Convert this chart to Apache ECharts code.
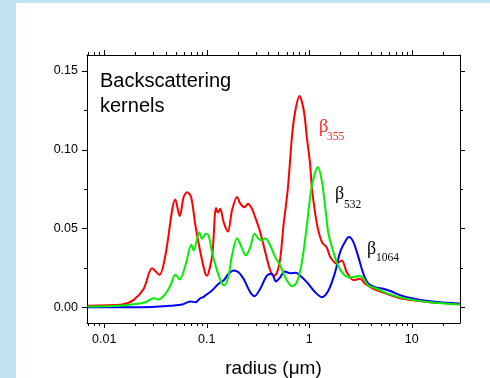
<!DOCTYPE html>
<html><head><meta charset="utf-8">
<script src="https://cdn.jsdelivr.net/npm/echarts@6/dist/echarts.min.js"></script>
<style>
html,body{margin:0;padding:0;width:490px;height:378px;overflow:hidden;background:#c3e2f2;}
#panel{position:absolute;left:16px;top:3px;right:0;bottom:0;background:#fff;}
#chart{position:absolute;left:0;top:0;width:490px;height:378px;}
</style></head><body>
<div id="panel"></div><div id="chart"></div>
<script>
// radius (µm) and kernel values
const r355 = [0.0069,0.0150,0.0194,0.0243,0.0293,0.0346,0.0395,0.0495,0.0545,0.0596,0.0643,0.0704,0.0775,0.0866,0.0969,0.1007,0.1084,0.1141,0.1232,0.1288,0.1356,0.1461,0.1612,0.1763,0.1972,0.2124,0.2339,0.2524,0.2761,0.2973,0.3324,0.3720,0.4162,0.4480,0.4836,0.5207,0.5609,0.6190,0.6862,0.7406,0.8027,0.8858,0.9475,1.020,1.060,1.186,1.327,1.484,1.598,1.857,2.077,2.323,2.694,3.131,3.503,4.219,5.696,8.266,15.04,29.47];
const b355 = [0.0010,0.0017,0.0047,0.0117,0.0248,0.0206,0.0328,0.0684,0.0578,0.0699,0.0730,0.0700,0.0520,0.0350,0.0212,0.0200,0.0265,0.0350,0.0629,0.0600,0.0625,0.0540,0.0480,0.0614,0.0700,0.0657,0.0635,0.0657,0.0625,0.0570,0.0476,0.0350,0.0233,0.0197,0.0218,0.0307,0.0520,0.0758,0.1120,0.1267,0.1340,0.1245,0.1076,0.0906,0.0758,0.0530,0.0413,0.0378,0.0320,0.0276,0.0297,0.0222,0.0172,0.0180,0.0149,0.0117,0.0085,0.0053,0.0032,0.0022];

const r532 = [0.0069,0.0139,0.0202,0.0252,0.0304,0.0340,0.0395,0.0442,0.0495,0.0545,0.0619,0.0708,0.0746,0.0847,0.0900,0.0984,0.1043,0.1126,0.1260,0.1409,0.1484,0.1633,0.1763,0.1972,0.2124,0.2414,0.2658,0.2926,0.3200,0.3455,0.3720,0.4162,0.4656,0.5207,0.6051,0.6862,0.7574,0.8472,0.9475,1.060,1.213,1.327,1.428,1.538,1.720,1.924,2.237,2.599,2.862,3.131,3.372,3.772,4.552,5.904,8.919,15.04,29.47];
const b532 = [0.0004,0.0010,0.0020,0.0032,0.0057,0.0049,0.0085,0.0138,0.0206,0.0176,0.0265,0.0396,0.0360,0.0476,0.0434,0.0466,0.0455,0.0350,0.0233,0.0149,0.0138,0.0200,0.0328,0.0438,0.0400,0.0328,0.0381,0.0466,0.0434,0.0424,0.0438,0.0392,0.0318,0.0265,0.0170,0.0133,0.0159,0.0286,0.0520,0.0773,0.0889,0.0800,0.0640,0.0466,0.0350,0.0260,0.0200,0.0190,0.0195,0.0200,0.0180,0.0138,0.0117,0.0085,0.0053,0.0032,0.0017];

const r1064 = [0.0069,0.0293,0.0459,0.0575,0.0692,0.0775,0.0866,0.0933,0.0969,0.1126,0.1306,0.1461,0.1633,0.1827,0.2044,0.2287,0.2658,0.2926,0.3324,0.3864,0.4323,0.4729,0.5207,0.5734,0.6516,0.7406,0.8155,0.9475,1.141,1.327,1.538,1.787,2.000,2.323,2.446,2.694,3.014,3.372,3.772,4.383,5.279,6.373,7.129,8.919,15.04,29.47];
const b1064 = [0.0000,0.0002,0.0010,0.0017,0.0036,0.0032,0.0057,0.0065,0.0075,0.0106,0.0149,0.0170,0.0212,0.0233,0.0222,0.0180,0.0095,0.0070,0.0117,0.0200,0.0212,0.0163,0.0190,0.0227,0.0216,0.0218,0.0200,0.0159,0.0095,0.0064,0.0106,0.0222,0.0350,0.0434,0.0445,0.0413,0.0318,0.0212,0.0149,0.0127,0.0117,0.0100,0.0085,0.0064,0.0038,0.0022];

// tick values
const xMajorTicks = [0.01, 0.1, 1, 10];
const xMinorTicks = [0.007,0.008,0.009,0.02,0.03,0.04,0.05,0.06,0.07,0.08,0.09,0.2,0.3,0.4,0.5,0.6,0.7,0.8,0.9,2,3,4,5,6,7,8,9,20];
const yMajorTicks = [0, 0.05, 0.10, 0.15];
const yMinorTicks = [0.025, 0.075, 0.125];

const X_MIN = 0.0068, X_MAX = 29.5, Y_MIN = -0.01, Y_MAX = 0.16;

const zip = (xs, ys) => xs.map((x, i) => [x, ys[i]]);

function tickSeries(values, isX, len) {
  return {
    type: 'custom', silent: true, clip: false, animation: false, z: 5,
    xAxisIndex: 0, yAxisIndex: 0,
    data: values.map(v => isX ? [v, 0] : [1, v]),
    renderItem: function (params, api) {
      const cs = params.coordSys;
      const st = { stroke: '#000', lineWidth: 1 };
      if (isX) {
        const x = Math.round(api.coord([api.value(0), 0])[0]) + 0.5;
        const b = cs.y + cs.height, t = cs.y;
        return { type: 'group', children: [
          { type: 'line', shape: { x1: x, y1: b, x2: x, y2: b + len }, style: st },
          { type: 'line', shape: { x1: x, y1: t, x2: x, y2: t - len }, style: st }
        ]};
      } else {
        const y = Math.round(api.coord([1, api.value(1)])[1]) + 0.5;
        const l = cs.x, r = cs.x + cs.width;
        return { type: 'group', children: [
          { type: 'line', shape: { x1: l - len, y1: y, x2: l, y2: y }, style: st },
          { type: 'line', shape: { x1: r, y1: y, x2: r + len, y2: y }, style: st }
        ]};
      }
    }
  };
}

function xLabel(v) {
  const k = Math.log10(v), rk = Math.round(k);
  if (Math.abs(k - rk) > 1e-6) return '';
  return rk < 0 ? Math.pow(10, rk).toFixed(-rk) : String(Math.pow(10, rk));
}

const FONT = 'Liberation Sans, Arial, sans-serif';
const SERIF = 'Liberation Serif, Times New Roman, serif';

const chart = echarts.init(document.getElementById('chart'), null, { renderer: 'canvas' });
const axisLineStyle = { show: true, onZero: false, lineStyle: { color: '#000', width: 1 } };

chart.setOption({
  animation: false,
  backgroundColor: 'transparent',
  grid: { left: 87, right: 30, top: 55, bottom: 55, containLabel: false, outerBoundsMode: 'none' },
  xAxis: [
    { type: 'log', logBase: 10, min: X_MIN, max: X_MAX, position: 'bottom',
      axisLine: axisLineStyle, axisTick: { show: false }, splitLine: { show: false },
      axisLabel: { formatter: xLabel, color: '#000', fontSize: 12.5, fontFamily: FONT, margin: 10, showMinLabel: true, showMaxLabel: true, hideOverlap: false },
      name: 'radius (\u03bcm)', nameLocation: 'middle', nameGap: 36,
      nameTextStyle: { color: '#000', fontSize: 19, fontFamily: FONT } },
    { type: 'log', logBase: 10, min: X_MIN, max: X_MAX, position: 'top',
      axisLine: axisLineStyle, axisTick: { show: false }, splitLine: { show: false },
      axisLabel: { show: false } }
  ],
  yAxis: [
    { type: 'value', min: Y_MIN, max: Y_MAX, position: 'left',
      axisLine: axisLineStyle, axisTick: { show: false }, splitLine: { show: false },
      axisLabel: { customValues: yMajorTicks, formatter: v => v.toFixed(2), color: '#000', fontSize: 12.5, fontFamily: FONT, margin: 9 } },
    { type: 'value', min: Y_MIN, max: Y_MAX, position: 'right',
      axisLine: axisLineStyle, axisTick: { show: false }, splitLine: { show: false },
      axisLabel: { show: false } }
  ],
  series: [
    { name: 'b355', type: 'line', data: zip(r355, b355), showSymbol: false, smooth: 0.3,
      lineStyle: { color: '#ff0000', width: 2 }, itemStyle: { color: '#ff0000' }, z: 2 },
    { name: 'b1064', type: 'line', data: zip(r1064, b1064), showSymbol: false, smooth: 0.3,
      lineStyle: { color: '#0000ff', width: 2 }, itemStyle: { color: '#0000ff' }, z: 2 },
    { name: 'b532', type: 'line', data: zip(r532, b532), showSymbol: false, smooth: 0.3,
      lineStyle: { color: '#00f000', width: 2 }, itemStyle: { color: '#00f000' }, z: 2 },
    tickSeries(xMajorTicks, true, 5),
    tickSeries(xMinorTicks, true, 3),
    tickSeries(yMajorTicks, false, 5),
    tickSeries(yMinorTicks, false, 3)
  ],
  graphic: [
    { type: 'text', left: 100, top: 69, style: { text: 'Backscattering\nkernels', fontSize: 20, lineHeight: 25, fontFamily: FONT, fill: '#000' } },
    { type: 'text', x: 319, y: 118, style: { text: '\u03b2', fontSize: 18, fontFamily: SERIF, fill: '#ff2020' } },
    { type: 'text', x: 327, y: 131, style: { text: '355', fontSize: 11.5, fontFamily: SERIF, fill: '#ff2020' } },
    { type: 'text', x: 335, y: 185, style: { text: '\u03b2', fontSize: 18, fontFamily: SERIF, fill: '#000' } },
    { type: 'text', x: 344, y: 199, style: { text: '532', fontSize: 11.5, fontFamily: SERIF, fill: '#000' } },
    { type: 'text', x: 367, y: 240, style: { text: '\u03b2', fontSize: 18, fontFamily: SERIF, fill: '#000' } },
    { type: 'text', x: 376, y: 252, style: { text: '1064', fontSize: 11.5, fontFamily: SERIF, fill: '#000' } }
  ]
});
</script>
</body></html>
